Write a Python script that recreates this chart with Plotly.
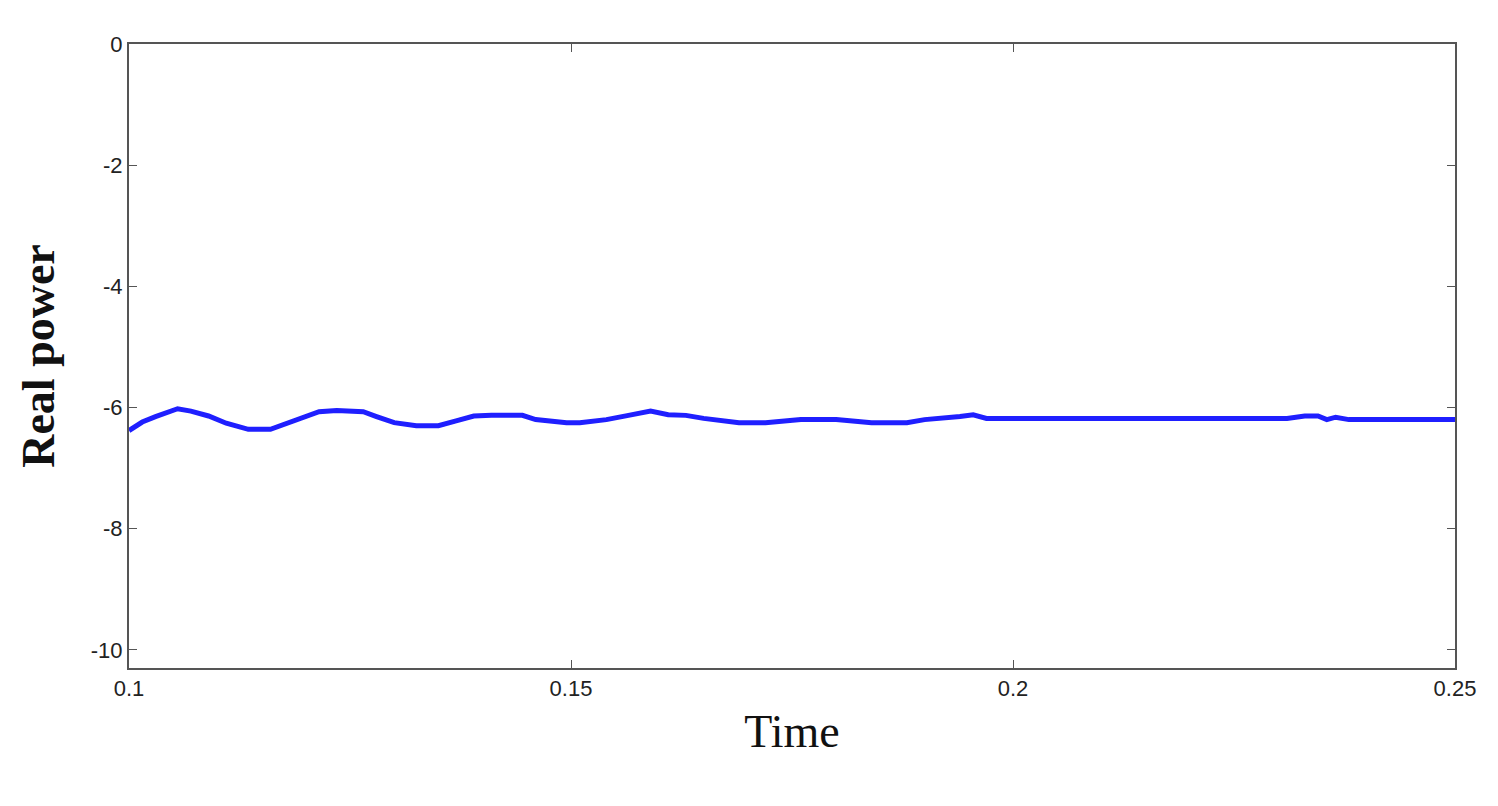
import plotly.graph_objects as go

time = [0.1, 0.1015, 0.103, 0.1045, 0.1055, 0.107, 0.109, 0.111, 0.1135, 0.116, 0.118, 0.12, 0.1215, 0.1235,
        0.1265, 0.128, 0.13, 0.1325, 0.135, 0.137, 0.139, 0.141, 0.1445, 0.146, 0.1495, 0.151, 0.154, 0.1565,
        0.1585, 0.159, 0.161, 0.163, 0.165, 0.169, 0.172, 0.176, 0.18, 0.184, 0.188, 0.19, 0.194, 0.1955,
        0.197, 0.2, 0.205, 0.215, 0.225, 0.231, 0.233, 0.2345, 0.2355, 0.2365, 0.238, 0.242, 0.25]
power = [-6.38, -6.24, -6.15, -6.08, -6.02, -6.06, -6.14, -6.26, -6.36, -6.36, -6.26, -6.15, -6.07, -6.05,
         -6.07, -6.15, -6.25, -6.3, -6.3, -6.22, -6.14, -6.13, -6.13, -6.2, -6.25, -6.25, -6.2, -6.13,
         -6.08, -6.06, -6.12, -6.13, -6.18, -6.25, -6.25, -6.2, -6.2, -6.25, -6.25, -6.2, -6.15, -6.12,
         -6.18, -6.18, -6.2, -6.2, -6.2, -6.18, -6.14, -6.14, -6.2, -6.16, -6.2, -6.2, -6.2]
y_ticks = [0, -2, -4, -6, -8, -10]
y_labels = ["0", "-2", "-4", "-6", "-8", "-10"]
x_ticks = [0.1, 0.15, 0.2, 0.25]
x_labels = ["0.1", "0.15", "0.2", "0.25"]

fig = go.Figure(go.Scatter(x=time, y=power, mode="lines", line=dict(color="#1f1fff", width=5)))

ax = dict(showgrid=False, zeroline=False, showline=True, linecolor="#555", linewidth=2, mirror="ticks",
          ticks="inside", ticklen=8, tickcolor="#555",
          tickfont=dict(family="Liberation Sans Narrow, Liberation Sans, Arial", size=22, color="#222"))
fig.update_xaxes(range=[0.1, 0.25], tickvals=x_ticks, ticktext=x_labels,
                 title=dict(text="Time", font=dict(family="Liberation Serif, Times New Roman", size=46, color="#111"), standoff=14), **ax)
fig.update_yaxes(range=[-10.3, 0], tickvals=y_ticks, ticktext=y_labels,
                 title=dict(text="<b>Real power</b>", font=dict(family="Liberation Serif, Times New Roman", size=46, color="#111"), standoff=22), **ax)
fig.update_layout(width=1498, height=806, plot_bgcolor="white", paper_bgcolor="white", showlegend=False,
                  margin=dict(l=121, r=51, t=36, b=146))
fig.write_html("out.html")
